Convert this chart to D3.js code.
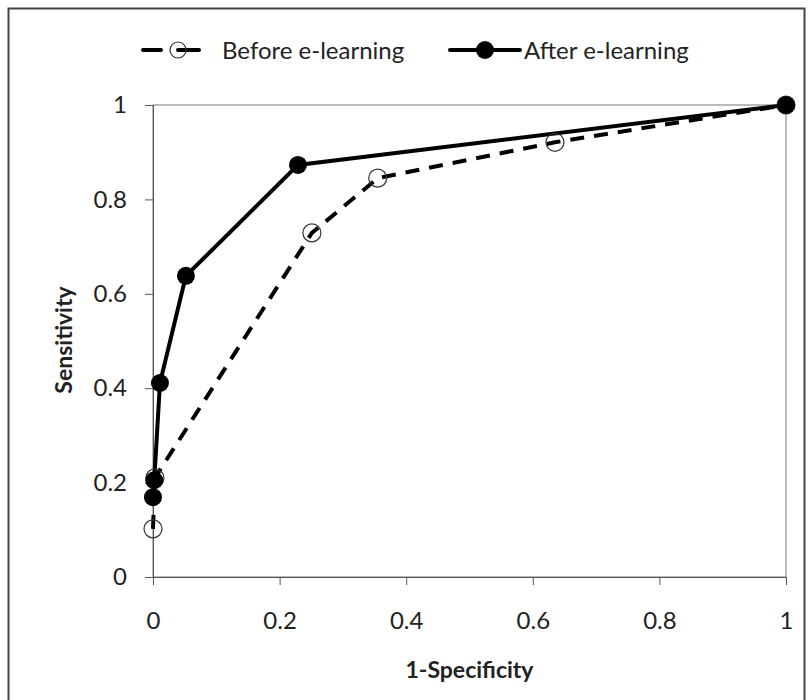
<!DOCTYPE html>
<html>
<head>
<meta charset="utf-8">
<script src="https://cdn.jsdelivr.net/npm/d3@7"></script>
<style>
  body { margin: 0; background: #fff; overflow: hidden; }
  svg text { font-family: Lato, "Open Sans", sans-serif; fill: #222; }
</style>
</head>
<body>
<div id="chart"></div>
<script>
// values
const beforeX = [0, 0.003, 0.251, 0.355, 0.635, 1];
const beforeY = [0.102, 0.21, 0.729, 0.845, 0.921, 1];
const afterX = [0, 0.002, 0.011, 0.052, 0.229, 1];
const afterY = [0.169, 0.205, 0.411, 0.638, 0.873, 1];
const tickValues = [0, 0.2, 0.4, 0.6, 0.8, 1];
const seriesNames = ["Before e-learning", "After e-learning"];

const width = 812, height = 700;
const margin = {top: 105, right: 26, bottom: 123, left: 153};
const w = width - margin.left - margin.right;
const h = height - margin.top - margin.bottom;

const svg = d3.select('#chart').append('svg')
    .attr('width', width)
    .attr('height', height)
    .style('display', 'block');

// outer chart border (bottom edge runs past the picture)
svg.append('rect')
    .attr('x', 8.5).attr('y', 8.5)
    .attr('width', 796).attr('height', 700)
    .attr('fill', 'none')
    .attr('stroke', '#444')
    .attr('stroke-width', 2);

const g = svg.append('g')
    .attr('transform', 'translate(' + margin.left + ',' + margin.top + ')');

const x = d3.scaleLinear().domain([0, 1]).range([0, w]);
const y = d3.scaleLinear().domain([0, 1]).range([h, 0]);

// plot area border
g.append('rect')
    .attr('width', w).attr('height', h)
    .attr('fill', 'none')
    .attr('stroke', '#777')
    .attr('stroke-width', 1);

const fmt = d => d === 0 || d === 1 ? String(d) : d.toFixed(1);

const xAxis = g.append('g')
    .attr('transform', 'translate(0,' + h + ')')
    .call(d3.axisBottom(x).tickValues(tickValues).tickFormat(fmt).tickSize(8).tickPadding(27));
const yAxis = g.append('g')
    .call(d3.axisLeft(y).tickValues(tickValues).tickFormat(fmt).tickSize(8).tickPadding(18));

[xAxis, yAxis].forEach(a => {
    a.select('.domain').attr('stroke', '#555');
    a.selectAll('.tick line').attr('stroke', '#555');
    a.selectAll('.tick text').style('font-size', '24px').attr('fill', '#222');
});

// axis titles
g.append('text')
    .attr('x', w / 2).attr('y', h + 101)
    .attr('text-anchor', 'middle')
    .style('font-size', '23px').style('font-weight', 'bold')
    .text('1-Specificity');
g.append('text')
    .attr('transform', 'translate(-81,' + (h / 2 - 1) + ') rotate(-90)')
    .attr('text-anchor', 'middle')
    .style('font-size', '23px').style('font-weight', 'bold')
    .text('Sensitivity');

const before = beforeX.map((v, i) => ({x: v, y: beforeY[i]}));
const after = afterX.map((v, i) => ({x: v, y: afterY[i]}));

const line = d3.line().x(d => x(d.x)).y(d => y(d.y));

g.append('path')
    .attr('d', line(before))
    .attr('fill', 'none')
    .attr('stroke', '#000')
    .attr('stroke-width', 4)
    .attr('stroke-dasharray', '14,10');

g.append('path')
    .attr('d', line(after))
    .attr('fill', 'none')
    .attr('stroke', '#000')
    .attr('stroke-width', 4);

g.selectAll('.before-pt').data(before).enter().append('circle')
    .attr('class', 'before-pt')
    .attr('cx', d => x(d.x)).attr('cy', d => y(d.y))
    .attr('r', 9)
    .attr('fill', 'none')
    .attr('stroke', '#333')
    .attr('stroke-width', 1.2);

g.selectAll('.after-pt').data(after).enter().append('circle')
    .attr('class', 'after-pt')
    .attr('cx', d => x(d.x)).attr('cy', d => y(d.y))
    .attr('r', 9)
    .attr('fill', '#000');

// legend
const leg = svg.append('g').attr('transform', 'translate(0,50)');
leg.append('line')
    .attr('x1', 143).attr('x2', 199)
    .attr('stroke', '#000').attr('stroke-width', 4)
    .attr('stroke-linecap', 'round')
    .attr('stroke-dasharray', '18,17,21');
leg.append('circle')
    .attr('cx', 178).attr('cy', 0).attr('r', 8)
    .attr('fill', 'none').attr('stroke', '#333').attr('stroke-width', 1.2);
leg.append('text')
    .attr('x', 222).attr('y', 9)
    .style('font-size', '24px')
    .text(seriesNames[0]);

leg.append('line')
    .attr('x1', 450).attr('x2', 520)
    .attr('stroke', '#000').attr('stroke-width', 4)
    .attr('stroke-linecap', 'round');
leg.append('circle')
    .attr('cx', 485).attr('cy', 0).attr('r', 9)
    .attr('fill', '#000');
leg.append('text')
    .attr('x', 524).attr('y', 9)
    .style('font-size', '24px')
    .text(seriesNames[1]);
</script>
</body>
</html>
